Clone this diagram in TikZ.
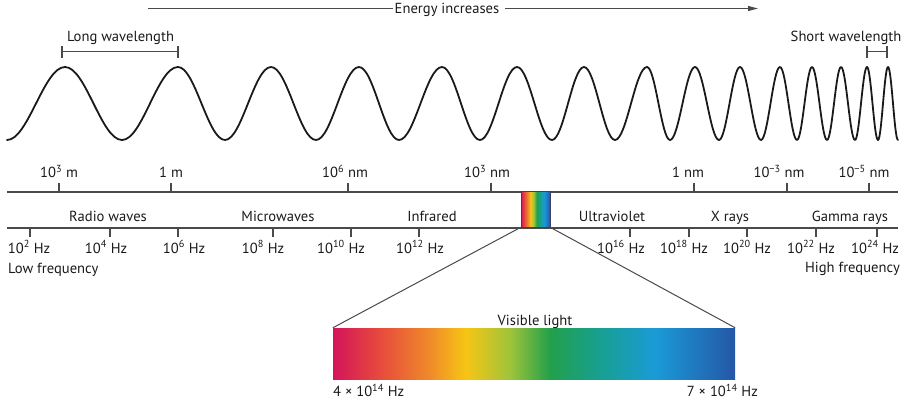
\documentclass[tikz,border=0pt]{standalone}
\usepackage{fontspec}
\setmainfont{PT Sans}
\usetikzlibrary{arrows.meta}
\definecolor{txt}{HTML}{1A1A1A}
\definecolor{axgray}{HTML}{4A4A4A}
\definecolor{wavec}{HTML}{1A1A1A}
\definecolor{vc0}{HTML}{D4145A}
\definecolor{vc1}{HTML}{E74C3C}
\definecolor{vc2}{HTML}{EF8A2A}
\definecolor{vc3}{HTML}{F7C515}
\definecolor{vc4}{HTML}{9FC43A}
\definecolor{vc5}{HTML}{22A04B}
\definecolor{vc6}{HTML}{17A08F}
\definecolor{vc7}{HTML}{1A9BD7}
\definecolor{vc8}{HTML}{2457A6}
\pgfdeclarehorizontalshading{visible}{100bp}{color(0bp)=(vc0); color(25bp)=(vc0); color(31bp)=(vc1); color(37bp)=(vc2); color(41.5bp)=(vc3); color(47bp)=(vc4); color(52bp)=(vc5); color(58bp)=(vc6); color(65bp)=(vc7); color(75bp)=(vc8); color(100bp)=(vc8)}
\tikzset{
  lbl/.style={font=\fontsize{14.6}{16}\selectfont, text=txt, inner sep=0pt, anchor=base},
  axisline/.style={draw=axgray, line width=1.1pt},
  tick/.style={draw=axgray, line width=1.1pt},
  bracket/.style={draw=axgray, line width=1.1pt},
  wave/.style={draw=wavec, line width=1.8pt, line join=round, line cap=round},
  spec/.style={shade, shading=visible, inner sep=0pt},
  link/.style={draw=axgray, line width=1pt}
}
\begin{document}
\begin{tikzpicture}[x=1pt,y=-1pt]
\useasboundingbox (0,0) rectangle (905,401);

% energy arrow
\node[lbl] (en) at (447,14) {Energy increases};
\coordinate (eL) at (148,8.5);
\coordinate (eA) at (393,8.5);
\coordinate (eB) at (505,8.5);
\coordinate (eR) at (758,8.5);
\draw[link, line width=1.1pt] (eL) -- (eA);
\draw[link, line width=1.1pt, -{Triangle[length=10pt,width=5pt]}] (eB) -- (eR);

% wavelength brackets
\node[lbl] (lw) at (120.5,42) {Long wavelength};
\draw[bracket] (62,46) -- (62,58) (62,51.5) -- (178,51.5) (178,46) -- (178,58);
\node[lbl] (sw) at (846,41.5) {Short wavelength};
\draw[bracket] (867,46) -- (867,58) (867,51.5) -- (887,51.5) (887,46) -- (887,58);

% wave
\draw[wave] (7,140)
  \foreach \a/\b/\t in {7/65/67, 65/122/140, 122/178/67, 178/225/140, 225/271/67,
    271/316/140, 316/359/67, 359/399/140, 399/442/67, 442/480/140, 480/517/67,
    517/552/140, 552/584/67, 584/615/140, 615/647/67, 647/670/140, 670/695/67,
    695/719/140, 719/740/67, 740/761/140, 761/780/67, 780/797/140, 797/812/67,
    812/827/140, 827/841/67, 841/855/140, 855/867/67, 867/878/140, 878/888/67,
    888/898/140}
  { cos ({(\a+\b)/2},103.5) sin (\b,\t) };

% wavelength axis
\draw[axisline] (7,192) -- (898,192);
\foreach \x in {59,171,348,491,694,787,869} \draw[tick] (\x,183) -- (\x,192);
\node[lbl] (w1) at (59,178) {10\textsuperscript{3} m};
\node[lbl] (w2) at (171,178) {1 m};
\node[lbl] (w3) at (345,178) {10\textsuperscript{6} nm};
\node[lbl] (w4) at (487,178) {10\textsuperscript{3} nm};
\node[lbl] (w5) at (688,178) {1 nm};
\node[lbl] (w6) at (779,178) {10\textsuperscript{−3} nm};
\node[lbl] (w7) at (864,178) {10\textsuperscript{−5} nm};

% band labels
\node[lbl] (b1) at (108,221) {Radio waves};
\node[lbl] (b2) at (278,221) {Microwaves};
\node[lbl] (b3) at (432,221) {Infrared};
\node[lbl] (b4) at (612,221) {Ultraviolet};
\node[lbl] (b5) at (730,221) {X rays};
\node[lbl] (b6) at (850,221) {Gamma rays};

% frequency axis
\draw[axisline] (7,228) -- (898,228);
\foreach \x in {30,110,178,273,351,419,630,689,747,816,877} \draw[tick] (\x,228) -- (\x,237);
\node[lbl] (f1) at (29,253) {10\textsuperscript{2} Hz};
\node[lbl] (f2) at (106,253) {10\textsuperscript{4} Hz};
\node[lbl] (f3) at (184,253) {10\textsuperscript{6} Hz};
\node[lbl] (f4) at (263,253) {10\textsuperscript{8} Hz};
\node[lbl] (f5) at (341,253) {10\textsuperscript{10} Hz};
\node[lbl] (f6) at (420,253) {10\textsuperscript{12} Hz};
\node[lbl] (f7) at (621,253) {10\textsuperscript{16} Hz};
\node[lbl] (f8) at (684,253) {10\textsuperscript{18} Hz};
\node[lbl] (f9) at (747,253) {10\textsuperscript{20} Hz};
\node[lbl] (f10) at (811,253) {10\textsuperscript{22} Hz};
\node[lbl] (f11) at (875,253) {10\textsuperscript{24} Hz};
\node[lbl, anchor=base west] (lf) at (8,273) {Low frequency};
\node[lbl, anchor=base east] (hf) at (900,272.5) {High frequency};

% small spectrum box
\node[spec, draw=axgray!80!blue, line width=0.8pt, minimum width=29pt, minimum height=36pt] (small) at (535.5,209) {};
% big spectrum box
\node[spec, minimum width=402pt, minimum height=51pt] (big) at (534,353.5) {};
\draw[link] (small.south west) -- (big.north west);
\draw[link] (small.south east) -- (big.north east);
\node[lbl] (vl) at (535,325.5) {Visible light};
\node[lbl, anchor=base west] (v1) at (333,396.5) {4 × 10\textsuperscript{14} Hz};
\node[lbl, anchor=base east] (v2) at (758,396.5) {7 × 10\textsuperscript{14} Hz};
\end{tikzpicture}
\end{document}
